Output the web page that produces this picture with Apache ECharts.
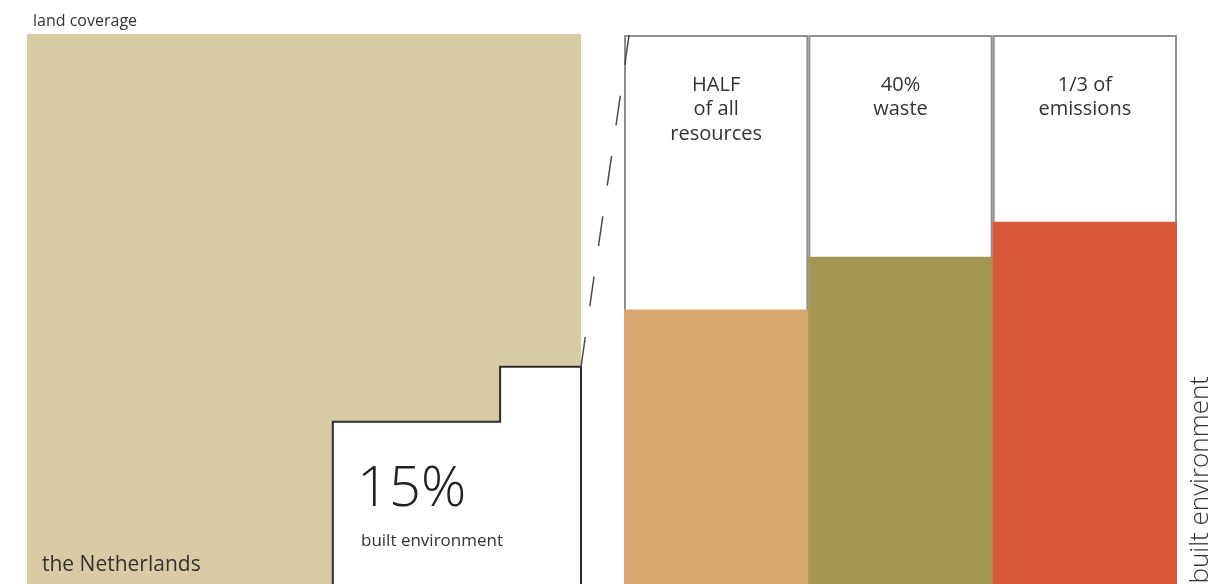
<!DOCTYPE html>
<html>
<head>
    <meta charset="utf-8">
    <script src="https://cdn.jsdelivr.net/npm/echarts@6/dist/echarts.min.js"></script>
</head>
<body style="margin:0">
    <div id="main" style="width: 1223px;height:584px;"></div>

    <script type="text/javascript">
        // land coverage: outline of the country and the built-up part (percent units of the square)
        var landShape = [[0, 0], [0, 100], [100, 100], [100, 0]];
        var builtShape = [[55.2, 0], [55.2, 29.5], [85.4, 29.5], [85.4, 39.5], [100, 39.5], [100, 0]];
        var builtLabel = '15%';

        // share of the built environment
        var categories = ['HALF\nof all\nresources', '40%\nwaste', '1/3 of\nemissions'];
        var shares = [50, 40.4, 34];
        var full = [100, 100, 100];

        var font = 'Open Sans';
        var palette = ['#d9a870', '#a49754', '#d9573b'];
        var rest = [];
        for (var i = 0; i < shares.length; i++) {
            rest.push({ value: 100 - shares[i], itemStyle: { color: palette[i] } });
        }

        // fill the shape; stroke only the open edges (the bottom edge is the picture's cut)
        function polygonRenderer(shape, fill, stroke) {
            return function (params, api) {
                if (params.dataIndex !== 0) return;
                var pts = [];
                for (var i = 0; i < shape.length; i++) {
                    pts.push(api.coord(shape[i]));
                }
                var children = [{
                    type: 'polygon',
                    shape: { points: pts },
                    style: { fill: fill, lineWidth: 0 }
                }];
                if (stroke) {
                    children.push({
                        type: 'polyline',
                        shape: { points: pts },
                        style: { fill: null, stroke: stroke, lineWidth: 2 }
                    });
                }
                return { type: 'group', children: children };
            };
        }

        var myChart = echarts.init(document.getElementById('main'));
        var option = {
            backgroundColor: '#fff',
            animation: false,
            textStyle: { fontFamily: font },
            grid: [
                { left: 27, top: 34, width: 554, bottom: 0 },
                { left: 624, top: 35, right: 46, bottom: 0 }
            ],
            xAxis: [
                { gridIndex: 0, type: 'value', min: 0, max: 100, show: false },
                { gridIndex: 1, type: 'category', data: categories, show: false }
            ],
            yAxis: [
                { gridIndex: 0, type: 'value', min: 0, max: 100, show: false },
                { gridIndex: 1, type: 'value', min: 0, max: 100, show: false }
            ],
            series: [
                {
                    type: 'custom', xAxisIndex: 0, yAxisIndex: 0, clip: false,
                    data: [0], silent: true,
                    renderItem: polygonRenderer(landShape, '#d8cba4', null)
                },
                {
                    type: 'custom', xAxisIndex: 0, yAxisIndex: 0, clip: false,
                    data: [0], silent: true, z: 3,
                    renderItem: polygonRenderer(builtShape, '#fff', '#2b2b2b')
                },
                {
                    name: 'box', type: 'bar', xAxisIndex: 1, yAxisIndex: 1,
                    data: full, barCategoryGap: '0%', silent: true,
                    itemStyle: { color: '#fff', borderColor: '#8f8f8f', borderWidth: 2 },
                    label: {
                        show: true, position: 'insideTop', distance: 38,
                        formatter: '{b}', fontSize: 20, lineHeight: 24.5,
                        color: '#333', fontFamily: font
                    }
                },
                {
                    name: 'rest', type: 'bar', xAxisIndex: 1, yAxisIndex: 1,
                    data: rest, barGap: '-100%', barCategoryGap: '0%', silent: true, z: 3
                }
            ]
        };
        myChart.setOption(option);

        // dashed connector from the built corner up to the bars
        var p = myChart.convertToPixel({ gridIndex: 0 }, [100, 39.5]);
        myChart.setOption({
            graphic: [
                {
                    type: 'line', silent: true, z: 10,
                    shape: { x1: p[0], y1: p[1], x2: p[0] + 49, y2: p[1] - 338 },
                    style: { stroke: '#4a4a4a', lineWidth: 1.5, lineDash: [30, 31] }
                },
                { type: 'text', z: 10, style: { x: 33, y: 21, text: 'land coverage', fontSize: 16, fill: '#333', fontFamily: font, verticalAlign: 'middle' } },
                { type: 'text', z: 10, style: { x: 42, y: 565, text: 'the Netherlands', fontSize: 21, fill: '#333', fontFamily: font, verticalAlign: 'middle' } },
                { type: 'text', left: 357, top: 462, z: 10, style: { text: builtLabel, fontSize: 56, fill: '#222', fontFamily: font, fontWeight: 300 } },
                { type: 'text', z: 10, style: { x: 361, y: 541, text: 'built environment', fontSize: 17, fill: '#333', fontFamily: font, verticalAlign: 'middle' } },
                {
                    type: 'text', x: 1201, y: 376, rotation: Math.PI / 2, z: 10,
                    style: { text: 'built environment', fontSize: 26, fill: '#333', fontFamily: font, fontWeight: 300, align: 'right', verticalAlign: 'middle' }
                }
            ]
        });
    </script>
</body>
</html>
